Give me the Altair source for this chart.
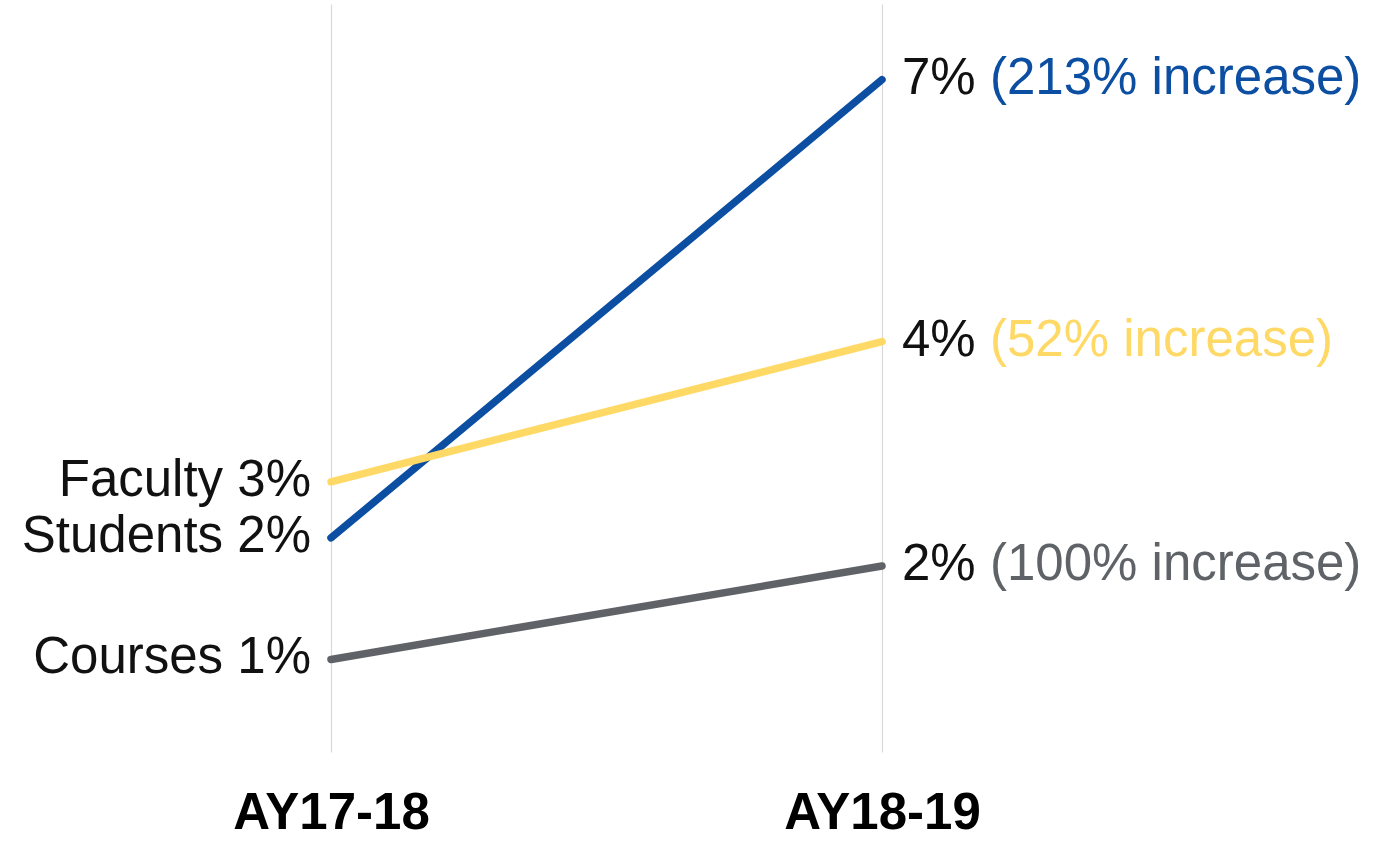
import altair as alt
import pandas as pd

periods = ["AY17-18", "AY18-19"]
series = ["Students", "Faculty", "Courses"]
start_vals = [2.29, 2.89, 0.99]
end_vals = [7.19, 4.39, 1.99]
start_labels = ["Students 2%", "Faculty 3%", "Courses 1%"]
end_labels = ["7%", "4%", "2%"]
increase_labels = ["(213% increase)", "(52% increase)", "(100% increase)"]
colors = ["#0b4ea2", "#ffd966", "#5f6368"]

rows = []
for i, s in enumerate(series):
    rows.append({"period": periods[0], "series": s, "value": start_vals[i],
                 "left": start_labels[i], "pct": "", "inc": ""})
    rows.append({"period": periods[1], "series": s, "value": end_vals[i],
                 "left": "", "pct": end_labels[i], "inc": increase_labels[i]})
df = pd.DataFrame(rows)

FONT = "Liberation Sans"
FS = 51

x = alt.X("period:N", sort=periods,
          scale=alt.Scale(type="point", padding=0, domain=periods),
          axis=alt.Axis(title=None, labelAngle=0, labelFontSize=FS, labelFont=FONT,
                        labelFontWeight="bold", labelColor="#000000", labelPadding=36,
                        labelLimit=0, ticks=False, domain=False, grid=True,
                        gridColor="#d9d9d9", gridWidth=1.2))
y = alt.Y("value:Q", scale=alt.Scale(domain=[0, 8], nice=False, zero=True), axis=None)
color = alt.Color("series:N", scale=alt.Scale(domain=series, range=colors), legend=None)

base = alt.Chart(df)

lines = base.mark_line(strokeWidth=7.5, strokeCap="round").encode(
    x=x, y=y, color=color, detail="series:N")

left_text = base.transform_filter(alt.datum.period == periods[0]).mark_text(
    align="right", baseline="middle", dx=-20, dy=-1, fontSize=FS, font=FONT, color="#111111"
).encode(x=x, y=y, text="left:N")

pct_text = base.transform_filter(alt.datum.period == periods[1]).mark_text(
    align="left", baseline="middle", dx=20, dy=-1, fontSize=FS, font=FONT, color="#111111"
).encode(x=x, y=y, text="pct:N")

inc_text = base.transform_filter(alt.datum.period == periods[1]).mark_text(
    align="left", baseline="middle", dx=108, dy=-1, fontSize=FS, font=FONT
).encode(x=x, y=y, text="inc:N", color=color)

chart = alt.layer(lines, left_text, pct_text, inc_text).properties(
    width=551, height=748,
    autosize=alt.AutoSizeParams(type="none"),
    padding={"left": 331, "top": 4, "right": 496, "bottom": 89},
    view=alt.ViewBackground(strokeOpacity=0, strokeWidth=0),
).configure_view(strokeWidth=0, strokeOpacity=0).configure_axis(
    domain=False
).configure(background="white")

chart.save("out.html", embed_options={"renderer": "svg", "actions": False})
